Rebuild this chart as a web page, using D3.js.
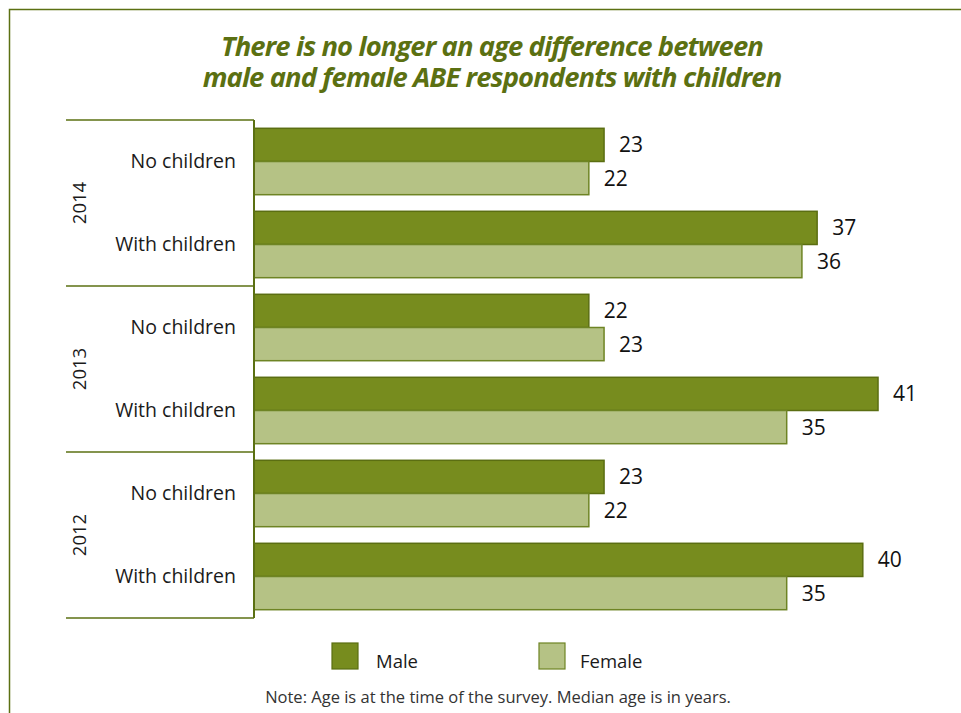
<!DOCTYPE html>
<html>
<head>
<meta charset="utf-8">
<script src="https://cdn.jsdelivr.net/npm/d3@7"></script>
<style>
  html, body { margin: 0; padding: 0; background: #fff; }
  svg { display: block; font-family: "Open Sans", "Noto Sans", sans-serif; }
</style>
</head>
<body>
<svg id="chart" width="961" height="713"></svg>
<script>
// Median age of ABE respondents by year, parental status and sex
const years = ["2014", "2013", "2012"];
const groups = ["No children", "With children"];
const series = ["Male", "Female"];
const maleValues = [23, 37, 22, 41, 23, 40];
const femaleValues = [22, 36, 23, 35, 22, 35];
const titleLines = ["There is no longer an age difference between",
                    "male and female ABE respondents with children"];
const note = "Note: Age is at the time of the survey. Median age is in years.";

const colors = { Male: "#778c1e", Female: "#b5c285" };
const strokes = { Male: "#5b6e12", Female: "#6e8424" };
const olive = "#5b7012";

const svg = d3.select("#chart");

// outer frame
svg.append("rect")
  .attr("x", 9.5).attr("y", 9.5).attr("width", 970).attr("height", 720)
  .attr("fill", "none").attr("stroke", olive).attr("stroke-width", 1.5);

// title
svg.append("g").selectAll("text").data(titleLines).join("text")
  .attr("x", 492).attr("y", (d, i) => 56 + i * 31)
  .attr("text-anchor", "middle")
  .attr("font-size", 27.4).attr("font-weight", 700).attr("font-style", "italic")
  .attr("letter-spacing", -0.9)
  .attr("fill", olive)
  .text(d => d);

// layout
const plotLeft = 254, plotTop = 120, plotBottom = 618;
const rows = [];
years.forEach((y, yi) => groups.forEach((g, gi) => {
  const k = yi * groups.length + gi;
  rows.push({ key: y + "|" + g, year: y, group: g, Male: maleValues[k], Female: femaleValues[k] });
}));

const yRow = d3.scaleBand().domain(rows.map(r => r.key)).range([plotTop, plotBottom]).paddingInner(0.2).paddingOuter(0.1);
const yYear = d3.scaleBand().domain(years).range([plotTop, plotBottom]);
const ySeries = d3.scaleBand().domain(series).range([0, yRow.bandwidth()]);
const x = d3.scaleLinear().domain([0, 45]).range([plotLeft, plotLeft + 45 * 15.22]);

// bars
const rowG = svg.append("g").selectAll("g").data(rows).join("g")
  .attr("transform", d => `translate(0,${yRow(d.key)})`);

rowG.selectAll("rect").data(d => series.map(s => ({ s, v: d[s] }))).join("rect")
  .attr("x", x(0))
  .attr("y", d => ySeries(d.s))
  .attr("width", d => x(d.v) - x(0))
  .attr("height", ySeries.bandwidth())
  .attr("fill", d => colors[d.s])
  .attr("stroke", d => strokes[d.s])
  .attr("stroke-width", 1.5);

rowG.selectAll("text").data(d => series.map(s => ({ s, v: d[s] }))).join("text")
  .attr("x", d => x(d.v) + 15)
  .attr("y", d => ySeries(d.s) + ySeries.bandwidth() / 2)
  .attr("dy", "0.36em")
  .attr("font-size", 21)
  .attr("fill", "#111")
  .text(d => d.v);

// category labels
svg.append("g").selectAll("text").data(rows).join("text")
  .attr("x", 236)
  .attr("y", d => yRow(d.key) + yRow.bandwidth() / 2)
  .attr("dy", "0.35em")
  .attr("text-anchor", "end")
  .attr("font-size", 19.5)
  .attr("fill", "#1a1a1a")
  .text(d => d.group);

// year labels (rotated)
svg.append("g").selectAll("text").data(years).join("text")
  .attr("transform", d => `translate(80,${yYear(d) + yYear.bandwidth() / 2}) rotate(-90)`)
  .attr("dy", "0.35em")
  .attr("text-anchor", "middle")
  .attr("font-size", 18.5)
  .attr("fill", "#1a1a1a")
  .text(d => d);

// group separators and axis line
svg.append("g").selectAll("line").data(years.concat(["end"])).join("line")
  .attr("x1", 66).attr("x2", plotLeft)
  .attr("y1", d => d === "end" ? plotBottom : yYear(d))
  .attr("y2", d => d === "end" ? plotBottom : yYear(d))
  .attr("stroke", olive).attr("stroke-width", 1.5);

svg.append("line")
  .attr("x1", plotLeft).attr("x2", plotLeft).attr("y1", plotTop).attr("y2", plotBottom)
  .attr("stroke", olive).attr("stroke-width", 2);

// legend
const legendX = { Male: 332, Female: 539 };
const lg = svg.append("g").selectAll("g").data(series).join("g")
  .attr("transform", d => `translate(${legendX[d]},643)`);
lg.append("rect").attr("width", 26).attr("height", 26)
  .attr("fill", d => colors[d]).attr("stroke", d => strokes[d]).attr("stroke-width", 1.2);
lg.append("text").attr("x", d => d === "Male" ? 44 : 41).attr("y", 17).attr("dy", "0.42em")
  .attr("font-size", 18.5).attr("fill", "#1a1a1a").text(d => d);

// note
svg.append("text")
  .attr("x", 498).attr("y", 703)
  .attr("text-anchor", "middle")
  .attr("font-size", 16.5).attr("fill", "#333")
  .text(note);
</script>
</body>
</html>
